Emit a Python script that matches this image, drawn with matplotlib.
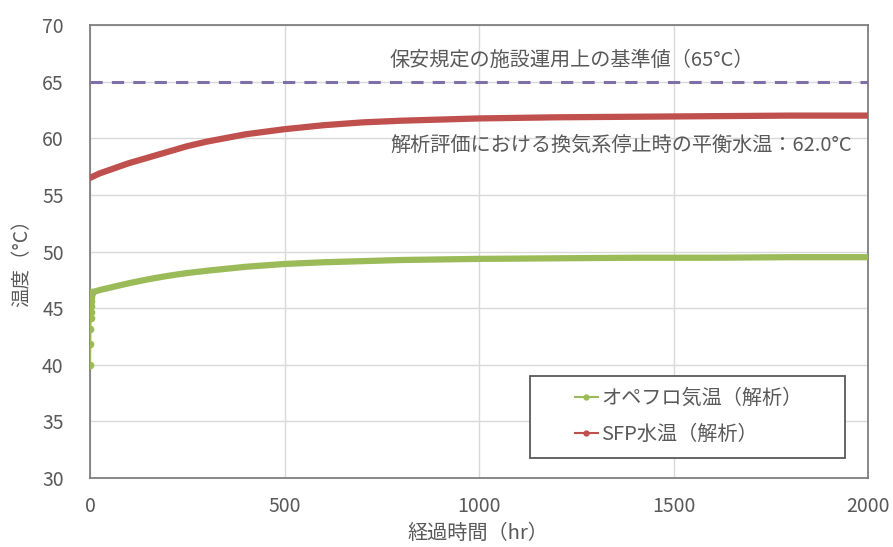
import matplotlib
matplotlib.use("Agg")
import matplotlib.pyplot as plt
from matplotlib.lines import Line2D
from matplotlib.patches import Rectangle

plt.rcParams['font.family'] = ['Noto Sans CJK JP', 'DejaVu Sans']

# Data (hours, °C)
green_t = [0, 0.5, 1, 1.5, 2, 2.5, 3, 3.5, 4, 5, 25, 50, 100, 150, 200, 250, 300, 400, 500,
           600, 700, 800, 1000, 1200, 1400, 1600, 1800, 2000]
green_v = [40.0, 41.8, 43.2, 44.1, 44.7, 45.2, 45.6, 46.0, 46.3, 46.4, 46.6, 46.8, 47.2, 47.55,
           47.85, 48.1, 48.3, 48.65, 48.9, 49.05, 49.15, 49.25, 49.35, 49.4, 49.45, 49.45, 49.5, 49.5]
red_t = [0, 25, 50, 100, 150, 200, 250, 300, 400, 500, 600, 700, 800, 1000, 1200, 1400, 1600,
         1800, 2000]
red_v = [56.5, 56.9, 57.2, 57.8, 58.3, 58.8, 59.3, 59.7, 60.35, 60.8, 61.15, 61.4, 61.55, 61.75,
         61.85, 61.9, 61.95, 62.0, 62.0]
limit_value = 65
series_names = ['オペフロ気温（解析）', 'SFP水温（解析）']
limit_text = '保安規定の施設運用上の基準値（65°C）'
eq_text = '解析評価における換気系停止時の平衡水温：62.0°C'
xticks = [0, 500, 1000, 1500, 2000]
yticks = [30, 35, 40, 45, 50, 55, 60, 65, 70]

GREEN = '#9BBB59'
RED = '#C0504D'
PURPLE = '#7F6FA8'
TXT = '#595959'

fig = plt.figure(figsize=(8.93, 5.47), dpi=100)
ax = fig.add_axes([0.1008, 0.1261, 0.8712, 0.8282])

ax.set_xlim(0, 2000)
ax.set_ylim(30, 70)
ax.set_xticks(xticks)
ax.set_yticks(yticks)
ax.grid(True, color='#d9d9d9', linewidth=1.0)
ax.set_axisbelow(True)
for s in ax.spines.values():
    s.set_color('#7f7f7f')
    s.set_linewidth(1.3)
ax.tick_params(length=0, labelsize=14, labelcolor=TXT)
ax.tick_params(axis='y', pad=19)
ax.tick_params(axis='x', pad=13)

ax.axhline(limit_value, color=PURPLE, linestyle=(0, (4, 3)), linewidth=2.2, zorder=3)

ax.plot(red_t, red_v, color=RED, linewidth=4.5, solid_capstyle='round', zorder=4)
ax.plot(green_t[8:], green_v[8:], color=GREEN, linewidth=4.5, solid_capstyle='round', zorder=4)
ax.plot(green_t[:10], green_v[:10], color=GREEN, linewidth=1.5, marker='o', markersize=4.5, zorder=5)

ax.text(0.3856, 0.9227, limit_text, transform=ax.transAxes, fontsize=14.5, color=TXT,
        ha='left', va='center')
ax.text(0.3856, 0.735, eq_text, transform=ax.transAxes, fontsize=14.5, color=TXT,
        ha='left', va='center')

fig.text(478 / 893, 1 - 533 / 547, '経過時間（hr）', fontsize=14.5, color=TXT, ha='center', va='center')
fig.text(22 / 893, 1 - 258 / 547, '温度（°C）', fontsize=14, color=TXT, ha='center', va='center',
         rotation=90)

# legend frame and entries
ax.add_patch(Rectangle((0.566, 0.044), 0.404, 0.181, transform=ax.transAxes, facecolor='white',
                       edgecolor='#595959', linewidth=1.3, zorder=6))
handles = [Line2D([0], [0], color=GREEN, marker='o', markersize=3.5, linewidth=1.5),
           Line2D([0], [0], color=RED, marker='o', markersize=3.5, linewidth=1.5)]
leg = ax.legend(handles, series_names, loc='center left', bbox_to_anchor=(0.623, 0.135),
                fontsize=14.5, frameon=False, handlelength=1.15, handletextpad=0.15,
                borderpad=0, labelspacing=0.75, borderaxespad=0)
leg.set_zorder(7)
for t in leg.get_texts():
    t.set_color(TXT)

fig.savefig('out.png', dpi=100)
